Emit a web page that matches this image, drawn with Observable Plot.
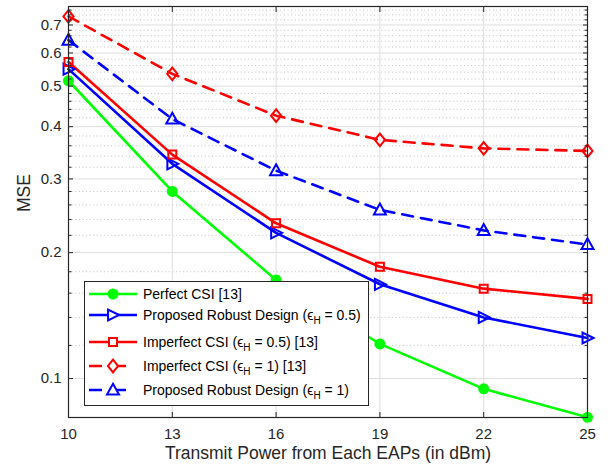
<!DOCTYPE html>
<html><head><meta charset="utf-8">
<script src="https://cdn.jsdelivr.net/npm/d3@7"></script>
<script src="https://cdn.jsdelivr.net/npm/@observablehq/plot@0.6"></script>
<style>
body{margin:0;background:#fff;font-family:"Liberation Sans",Arial,sans-serif;}
#wrap{position:relative;width:608px;height:470px;}
#legend{position:absolute;left:84px;top:281px;width:285px;height:125px;border:1px solid #262626;background:#fff;box-sizing:border-box;}
.row{position:absolute;left:0;height:22px;display:flex;align-items:center;}
.row svg{display:block;}
.row span{font-size:14px;color:#000;margin-left:4px;white-space:nowrap;}
.row sub{font-size:10px;vertical-align:-4px;line-height:0;}
</style></head>
<body><div id="wrap"></div>
<script>
// ---- data ----
const power = [10, 13, 16, 19, 22, 25];
const perfectCSI   = [0.515, 0.280, 0.172, 0.121, 0.0945, 0.0808];
const robust05     = [0.549, 0.326, 0.223, 0.168, 0.140, 0.125];
const imperfect05  = [0.571, 0.343, 0.235, 0.185, 0.164, 0.155];
const imperfect1   = [0.734, 0.535, 0.425, 0.372, 0.355, 0.350];
const robust1      = [0.644, 0.417, 0.314, 0.253, 0.226, 0.209];
const xTicks = [10, 13, 16, 19, 22, 25];
const yTicks = [0.1, 0.2, 0.3, 0.4, 0.5, 0.6, 0.7];
const legendLabels = [
  "Perfect CSI [13]",
  "Proposed Robust Design (\u03F5<sub>H</sub> = 0.5)",
  "Imperfect CSI (\u03F5<sub>H</sub> = 0.5) [13]",
  "Imperfect CSI (\u03F5<sub>H</sub> = 1) [13]",
  "Proposed Robust Design (\u03F5<sub>H</sub> = 1)"
];
const xLabel = "Transmit Power from Each EAPs (in dBm)";
const yLabel = "MSE";

const yMinor = d3.range(5, 39).map(i => i / 50).filter(v => !yTicks.some(t => Math.abs(t - v) < 1e-9));

// ---- symbols ----
const rOf = s => Math.sqrt(s / Math.PI);
const symTriRight = {draw(c, s){const r = rOf(s); c.moveTo(r*1.1, 0); c.lineTo(-r*0.9, -r); c.lineTo(-r*0.9, r); c.closePath();}};
const symTriUp = {draw(c, s){const r = rOf(s); c.moveTo(0, -r*1.05); c.lineTo(r, r*0.75); c.lineTo(-r, r*0.75); c.closePath();}};
const symDiamond = {draw(c, s){const r = rOf(s); c.moveTo(0, -r*1.05); c.lineTo(r*0.85, 0); c.lineTo(0, r*1.05); c.lineTo(-r*0.85, 0); c.closePath();}};
const symSquare = {draw(c, s){const r = rOf(s); c.rect(-r, -r, 2*r, 2*r);}};
const symCircle = {draw(c, s){const r = rOf(s); c.moveTo(r, 0); c.arc(0, 0, r, 0, 2*Math.PI);}};

const series = [
  {values: perfectCSI,  color: "#00ff00", dash: null,   symbol: symCircle,   r: 4.5, filled: true},
  {values: robust05,    color: "#0000ff", dash: null,   symbol: symTriRight, r: 5.5, filled: false},
  {values: imperfect05, color: "#ff0000", dash: null,   symbol: symSquare,   r: 4,   filled: false},
  {values: imperfect1,  color: "#ff0000", dash: "11,8", symbol: symDiamond,  r: 6,   filled: false},
  {values: robust1,     color: "#0000ff", dash: "11,8", symbol: symTriUp,    r: 6,   filled: false}
];

const lineMarks = [];
const dotMarks = [];
for (const s of series) {
  const data = power.map((p, i) => ({x: p, y: s.values[i]}));
  lineMarks.push(Plot.line(data, {x: "x", y: "y", stroke: s.color, strokeWidth: 2.6, strokeDasharray: s.dash, strokeLinejoin: "round"}));
  dotMarks.push(Plot.dot(data, {x: "x", y: "y", symbol: s.symbol, r: s.r, stroke: s.color, strokeWidth: 2, fill: s.filled ? s.color : "none"}));
}

const axisColor = "#262626";
const chart = Plot.plot({
  width: 608, height: 470,
  marginLeft: 68, marginRight: 21, marginTop: 6, marginBottom: 53,
  style: {fontFamily: '"Liberation Sans", Arial, sans-serif', fontSize: "15px", color: axisColor, background: "#fff", overflow: "visible"},
  x: {domain: [10, 25]},
  y: {type: "log", domain: [0.0807, 0.775]},
  marks: [
    Plot.ruleY(yMinor, {stroke: "#b4b4b4", strokeWidth: 0.8, strokeDasharray: "1,2.6"}),
    Plot.ruleY(yTicks, {stroke: "#dedede", strokeWidth: 1}),
    Plot.ruleX(xTicks, {stroke: "#dedede", strokeWidth: 1}),
    ...lineMarks,
    ...dotMarks,
    Plot.frame({stroke: axisColor, strokeWidth: 1.2}),
    // tick marks (inward)
    Plot.axisY(yTicks, {anchor: "left", tickSize: 5, dx: 5, text: null, label: null, stroke: axisColor}),
    Plot.axisY(yTicks, {anchor: "right", tickSize: 5, dx: -5, text: null, label: null, stroke: axisColor}),
    Plot.axisY(yMinor, {anchor: "left", tickSize: 3.5, dx: 3.5, text: null, label: null, stroke: axisColor}),
    Plot.axisY(yMinor, {anchor: "right", tickSize: 3.5, dx: -3.5, text: null, label: null, stroke: axisColor}),
    Plot.axisX(xTicks, {anchor: "bottom", tickSize: 5, dy: -5, text: null, label: null, stroke: axisColor}),
    Plot.axisX(xTicks, {anchor: "top", tickSize: 5, dy: 5, text: null, label: null, stroke: axisColor}),
    // tick labels
    Plot.axisY(yTicks, {anchor: "left", tickSize: 0, tickPadding: 7, tickFormat: d => String(d), label: null, fontSize: 15, fill: axisColor}),
    Plot.axisX(xTicks, {anchor: "bottom", tickSize: 0, tickPadding: 11, tickFormat: d => String(d), label: null, fontSize: 15, fill: axisColor}),
    Plot.text([xLabel], {frameAnchor: "bottom", dy: 41, fontSize: 17.5, fill: axisColor}),
    Plot.text([yLabel], {frameAnchor: "left", dx: -44, rotate: -90, fontSize: 17.5, fill: axisColor})
  ]
});
const wrap = document.getElementById("wrap");
wrap.appendChild(chart);

// ---- legend ----
const legend = document.createElement("div");
legend.id = "legend";
const rowCenters = [12, 33, 60, 84, 108];
series.forEach((s, i) => {
  const row = document.createElement("div");
  row.className = "row";
  row.style.top = (rowCenters[i] - 11) + "px";
  const svg = d3.create("svg").attr("width", 54).attr("height", 22);
  svg.append("line").attr("x1", 4).attr("x2", 52).attr("y1", 11).attr("y2", 11)
    .attr("stroke", s.color).attr("stroke-width", 2.6)
    .attr("stroke-dasharray", s.dash ? "13,11" : null);
  svg.append("path").attr("transform", "translate(28,11)")
    .attr("d", d3.symbol(s.symbol, Math.PI * s.r * s.r)())
    .attr("stroke", s.color).attr("stroke-width", 2)
    .attr("fill", s.filled ? s.color : "#fff");
  row.appendChild(svg.node());
  const span = document.createElement("span");
  span.innerHTML = legendLabels[i];
  row.appendChild(span);
  legend.appendChild(row);
});
wrap.appendChild(legend);
</script>
</body></html>
